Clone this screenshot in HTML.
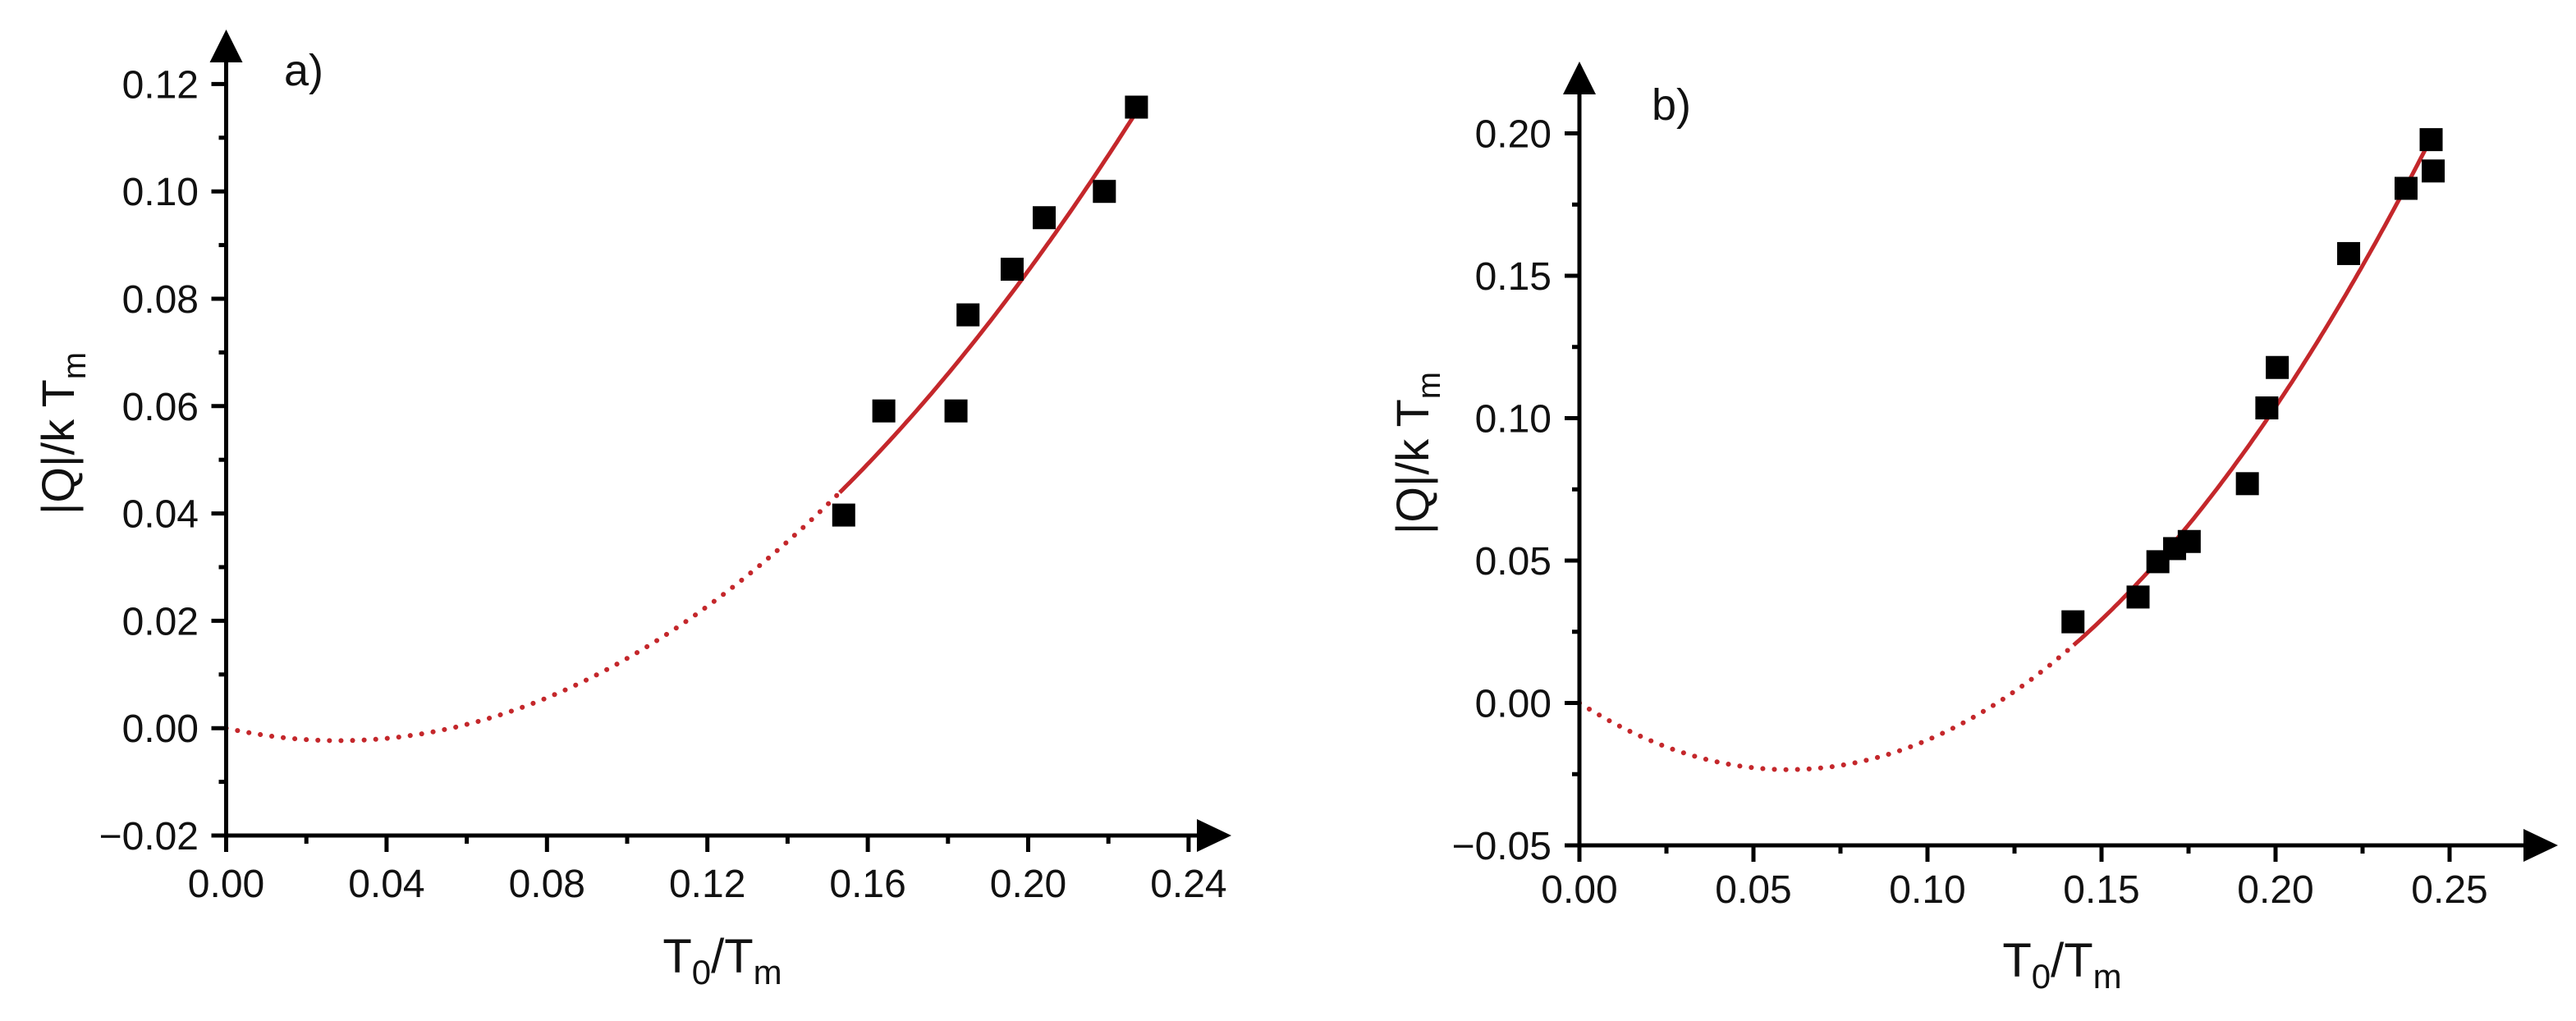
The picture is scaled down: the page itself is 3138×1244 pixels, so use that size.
<!DOCTYPE html>
<html><head><meta charset="utf-8"><style>
html,body{margin:0;padding:0;background:#fff;}
svg{display:block;font-family:"Liberation Sans",Arial,sans-serif;}
</style></head><body>
<svg id="chart" width="3138" height="1244" viewBox="0 0 3138 1244" xmlns="http://www.w3.org/2000/svg">
<rect width="3138" height="1244" fill="#fff"/>
<g id="pa"></g>
<g id="pb"></g>
</svg>
<script>
// Panel a data
const aX = [0.154, 0.164, 0.182, 0.185, 0.196, 0.204, 0.219, 0.227];
const aY = [0.0397, 0.0591, 0.0591, 0.077, 0.0855, 0.0951, 0.100, 0.1157];
const aFit = [0, -0.166, 2.96];          // c0, c1, c2
const aFitRange = [0, 0.153, 0.227];     // dotted start, solid start, end
const aXTicks = [0.00, 0.04, 0.08, 0.12, 0.16, 0.20, 0.24];
const aXTickLabels = ["0.00","0.04","0.08","0.12","0.16","0.20","0.24"];
const aYTicks = [-0.02, 0.00, 0.02, 0.04, 0.06, 0.08, 0.10, 0.12];
const aYTickLabels = ["\u22120.02","0.00","0.02","0.04","0.06","0.08","0.10","0.12"];
// Panel b data
const bX = [0.1418, 0.1605, 0.1662, 0.171, 0.1752, 0.1919, 0.1975, 0.2005, 0.221, 0.2375, 0.2447, 0.2453];
const bY = [0.0285, 0.0372, 0.0496, 0.0542, 0.0567, 0.077, 0.1036, 0.1178, 0.1578, 0.1807, 0.1978, 0.1868];
const bFit = [0, -0.78, 6.5];
const bFitRange = [0, 0.142, 0.245];
const bXTicks = [0.00, 0.05, 0.10, 0.15, 0.20, 0.25];
const bXTickLabels = ["0.00","0.05","0.10","0.15","0.20","0.25"];
const bYTicks = [-0.05, 0.00, 0.05, 0.10, 0.15, 0.20];
const bYTickLabels = ["\u22120.05","0.00","0.05","0.10","0.15","0.20"];

const NS = "http://www.w3.org/2000/svg";
function mk(tag, attrs, parent){const e=document.createElementNS(NS,tag);for(const k in attrs)e.setAttribute(k,attrs[k]);parent.appendChild(e);return e;}

function panel(g, cfg){
  const sx = v => cfg.x0 + (v - cfg.xmin) * cfg.kx;
  const sy = v => cfg.y0 - (v - cfg.ymin) * cfg.ky;
  const axY = sy(cfg.ymin), axX = sx(cfg.xmin);
  // fit curves
  const f = x => cfg.fit[0] + cfg.fit[1]*x + cfg.fit[2]*x*x;
  function curvePath(a,b){let d="";const n=120;for(let i=0;i<=n;i++){const x=a+(b-a)*i/n;d+=(i?"L":"M")+sx(x).toFixed(1)+","+sy(f(x)).toFixed(1);}return d;}
  const dot = mk("path",{d:curvePath(cfg.fr[0],cfg.fr[1]),fill:"none",stroke:"#c4272b","stroke-width":6,"stroke-dasharray":"0.1 14","stroke-linecap":"round"},g);
  
  
  const sol = mk("path",{d:curvePath(cfg.fr[1],cfg.fr[2]),fill:"none",stroke:"#c4272b","stroke-width":5},g);
  
  
  // points
  for(let i=0;i<cfg.xs.length;i++){
    const r = mk("rect",{x:sx(cfg.xs[i])-14,y:sy(cfg.ys[i])-14,width:28,height:28,fill:"#000"},g);
    
    
  }
  // axes
  const ya = mk("line",{x1:axX,y1:axY+2,x2:axX,y2:cfg.arrowTop+30,stroke:"#000","stroke-width":5},g);
  
  
  const yar = mk("polygon",{points:`${axX-20},${cfg.arrowTop+40} ${axX+20},${cfg.arrowTop+40} ${axX},${cfg.arrowTop}`,fill:"#000"},g);
  
  
  const xa = mk("line",{x1:axX-2,y1:axY,x2:cfg.arrowRight-30,y2:axY,stroke:"#000","stroke-width":5},g);
  
  
  const xar = mk("polygon",{points:`${cfg.arrowRight-42},${axY-20} ${cfg.arrowRight-42},${axY+20} ${cfg.arrowRight},${axY}`,fill:"#000"},g);
  
  
  // y ticks
  for(let i=0;i<cfg.yt.length;i++){
    const y=sy(cfg.yt[i]);
    const t=mk("line",{x1:axX-18,y1:y,x2:axX,y2:y,stroke:"#000","stroke-width":5},g);
    
    
    if(i<cfg.yt.length-1){
      const ym=sy((cfg.yt[i]+cfg.yt[i+1])/2);
      const m=mk("line",{x1:axX-9,y1:ym,x2:axX,y2:ym,stroke:"#000","stroke-width":5},g);
      
      
    }
    const l=mk("text",{x:cfg.ylabRight,y:y+17,"font-size":48,"text-anchor":"end",fill:"#111"},g);
    l.textContent=cfg.ytl[i];
    
    
  }
  // x ticks
  for(let i=0;i<cfg.xt.length;i++){
    const x=sx(cfg.xt[i]);
    const t=mk("line",{x1:x,y1:axY,x2:x,y2:axY+20,stroke:"#000","stroke-width":5},g);
    
    
    if(i<cfg.xt.length-1){
      const xm=sx((cfg.xt[i]+cfg.xt[i+1])/2);
      const m=mk("line",{x1:xm,y1:axY,x2:xm,y2:axY+10,stroke:"#000","stroke-width":5},g);
      
      
    }
    const l=mk("text",{x:x,y:cfg.xlabBase,"font-size":48,"text-anchor":"middle",fill:"#111"},g);
    l.textContent=cfg.xtl[i];
    
    
  }
  // x title
  const xt=mk("text",{x:cfg.xTitleX,y:cfg.xTitleBase,"font-size":58,"text-anchor":"middle",fill:"#111"},g);
  xt.innerHTML='T<tspan font-size="42" dy="14">0</tspan><tspan dy="-14">/T</tspan><tspan font-size="42" dy="14">m</tspan>';
  
  
  // y title
  const yt=mk("text",{x:0,y:0,"font-size":56,"text-anchor":"middle",fill:"#111",transform:`translate(${cfg.yTitleBase},${cfg.yTitleY}) rotate(-90)`},g);
  yt.innerHTML='|Q|/k T<tspan font-size="40" dy="14">m</tspan>';
  
  
  // panel label
  const pl=mk("text",{x:cfg.lblX,y:cfg.lblY,"font-size":54,fill:"#111"},g);
  pl.textContent=cfg.lbl;
  
  
}

panel(document.getElementById('pa'),{x0:275.5,xmin:0,kx:4885,y0:1018,ymin:-0.02,ky:6540,
  xs:aX,ys:aY,fit:aFit,fr:aFitRange,xt:aXTicks,xtl:aXTickLabels,yt:aYTicks,ytl:aYTickLabels,
  arrowTop:36,arrowRight:1500,ylabRight:242,xlabBase:1093,xTitleX:880,xTitleBase:1185,
  yTitleBase:90,yTitleY:528,lbl:"a)",lblX:346,lblY:104});
panel(document.getElementById('pb'),{x0:1924,xmin:0,kx:4240,y0:1030,ymin:-0.05,ky:3470,
  xs:bX,ys:bY,fit:bFit,fr:bFitRange,xt:bXTicks,xtl:bXTickLabels,yt:bYTicks,ytl:bYTickLabels,
  arrowTop:75,arrowRight:3116,ylabRight:1890,xlabBase:1100,xTitleX:2512,xTitleBase:1190,
  yTitleBase:1740,yTitleY:552,lbl:"b)",lblX:2012,lblY:146});
</script>
</body></html>
